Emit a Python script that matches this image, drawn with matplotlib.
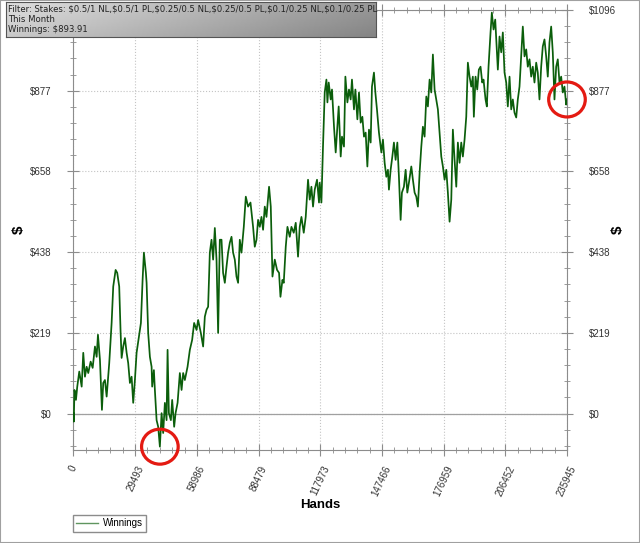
import numpy as np
import matplotlib
matplotlib.use('Agg')
import matplotlib.pyplot as plt
from matplotlib.ticker import AutoMinorLocator, FixedLocator, FixedFormatter
from matplotlib.patches import Ellipse, Rectangle
from matplotlib.lines import Line2D

plt.rcParams['text.parse_math'] = False
plt.rcParams['font.family'] = ['Liberation Sans', 'DejaVu Sans']

# cumulative winnings (hands in thousands, $)
hands_k = [0, 0.14, 0.48, 1.19, 1.81, 2.77, 3.92, 4.68, 5.49, 6.30, 7.07, 8.21, 9.17, 10.27, 11.08,
           11.70, 12.66, 13.61, 14.23, 15.04, 15.86, 17.10, 18.24, 19.01, 20.15, 20.92, 21.87, 22.54,
           23.02, 23.78, 24.60, 25.41, 26.17, 26.98, 27.80, 28.56, 29.37, 30.18, 31.28, 32.24, 33.05,
           33.67, 34.63, 34.96, 35.72, 36.54, 37.35, 37.63, 38.45, 38.92, 39.74, 40.50, 41.31, 42.13,
           42.89, 43.70, 44.51, 44.99, 45.61, 46.57, 47.19, 48.14, 48.81, 49.77, 50.86, 51.68, 52.44,
           53.25, 54.54, 55.64, 56.74, 57.69, 58.84, 59.60, 60.89, 61.99, 62.80, 63.61, 64.38, 65.19,
           66.00, 66.77, 67.58, 68.39, 69.16, 69.97, 70.78, 71.54, 72.36, 73.17, 73.93, 74.75, 75.56,
           76.32, 77.13, 77.94, 78.71, 79.52, 80.33, 81.43, 82.39, 83.48, 84.63, 85.87, 86.68, 87.50,
           88.26, 89.07, 89.88, 90.65, 91.46, 92.27, 93.51, 94.33, 95.14, 96.24, 97.33, 98.29, 98.96,
           99.91, 100.53, 101.49, 102.30, 103.40, 104.21, 105.31, 106.27, 107.36, 108.18, 108.99,
           110.09, 111.04, 112.14, 112.95, 113.76, 114.53, 115.34, 116.44, 117.39, 117.73, 118.54,
           119.30, 120.12, 120.93, 121.41, 122.03, 122.98, 123.60, 124.56, 125.37, 126.18, 126.80,
           127.76, 128.38, 129.33, 130.00, 130.96, 131.72, 132.53, 133.15, 134.11, 134.78, 135.73,
           136.50, 137.31, 138.12, 138.89, 139.70, 140.51, 141.28, 142.09, 142.71, 143.66, 144.33,
           145.10, 146.05, 147.20, 147.96, 148.77, 149.58, 150.35, 150.82, 151.64, 152.45, 153.21,
           154.02, 154.84, 155.60, 156.41, 157.03, 157.99, 158.80, 159.61, 160.38, 161.52, 162.28,
           163.10, 163.91, 164.67, 165.49, 166.30, 167.06, 167.87, 168.69, 169.45, 170.26, 171.07,
           171.84, 172.65, 173.46, 174.23, 175.04, 175.85, 176.62, 177.43, 178.24, 179.00, 179.82,
           180.63, 181.39, 182.20, 183.02, 183.78, 184.59, 185.40, 186.17, 186.98, 187.79, 188.56,
           189.37, 190.18, 190.94, 191.42, 192.23, 193.04, 193.81, 194.62, 195.43, 196.05, 197.01,
           197.63, 198.44, 199.40, 200.02, 200.83, 201.64, 202.41, 202.89, 203.70, 204.51, 205.28,
           206.09, 206.90, 207.66, 208.48, 209.29, 210.05, 210.86, 211.68, 212.44, 213.25, 214.06,
           214.83, 215.64, 216.45, 217.21, 218.03, 218.84, 219.60, 220.41, 221.23, 221.99, 222.80,
           223.61, 224.38, 225.19, 226.00, 226.77, 227.58, 228.39, 229.16, 229.97, 230.78, 231.55,
           232.36, 233.17, 233.94, 234.75, 235.56, 235.945]
winnings = [0, -22, 64, 37, 73, 114, 73, 165, 100, 127, 110, 141, 124, 182, 154,
            214, 146, 10, 83, 91, 46, 137, 246, 345, 390, 382, 345, 219,
            151, 182, 205, 165, 137, 83, 100, 29, 91, 165, 209, 246, 363,
            437, 382, 355, 219, 154, 127, 73, 118, 64, -18, -36, -90, 1,
            -53, 29, -18, 173, 1, -18, 37, -36, 1, 29, 110, 64, 110,
            91, 127, 173, 200, 246, 227, 254, 219, 182, 263, 282, 290, 437,
            472, 418, 504, 418, 219, 472, 472, 382, 355, 399, 437, 464, 480,
            437, 418, 372, 355, 472, 437, 507, 589, 562, 573, 507, 453, 472,
            526, 507, 534, 499, 562, 534, 616, 562, 372, 418, 390, 382, 317,
            363, 355, 453, 507, 480, 507, 491, 518, 426, 507, 534,
            491, 534, 635, 581, 616, 562, 608, 635, 573, 627, 573,
            725, 872, 907, 845, 899, 853, 880, 779, 709, 779, 834,
            698, 752, 725, 915, 845, 880, 853, 907, 826, 880, 799,
            872, 790, 806, 752, 763, 671, 771, 736, 888, 926, 872,
            826, 763, 709, 744, 681, 643, 662, 608, 662, 698, 736,
            689, 736, 643, 526, 600, 616, 662, 600, 627, 671, 635,
            600, 589, 562, 654, 725, 779, 752, 861, 834, 907, 872,
            975, 880, 853, 826, 763, 698, 671, 635, 662, 600, 521,
            581, 771, 689, 616, 736, 681, 736, 698, 744, 806, 953,
            915, 888, 915, 806, 915, 880, 934, 942, 899, 907, 853,
            834, 942, 1035, 1089, 1043, 1070, 989, 934, 1024, 981, 1035,
            926, 899, 834, 915, 826, 853, 817, 804, 853, 888, 970,
            1051, 970, 989, 942, 962, 915, 942, 899, 953, 926, 853,
            942, 997, 1016, 970, 915, 1008, 1051, 981, 853, 942, 962,
            899, 915, 872, 888, 839, 853]

x_max = 235945
y_max = 1096
x_tick_labels = ['0', '29493', '58986', '88479', '117973', '147466', '176959', '206452', '235945']
y_tick_labels = ['$0', '$219', '$438', '$658', '$877', '$1096']
filter_lines = ['Filter: Stakes: $0.5/1 NL,$0.5/1 PL,$0.25/0.5 NL,$0.25/0.5 PL,$0.1/0.25 NL,$0.1/0.25 PL',
                'This Month',
                'Winnings: $893.91']

hands = np.array(hands_k) * 1000
gray = '#8c8c8c'

fig = plt.figure(figsize=(6.4, 5.43), dpi=100)
ax = fig.add_axes([0.1148, 0.1713, 0.7711, 0.8103])
ax.plot(hands, winnings, color='#0b5e0b', lw=1.25, zorder=3)
ax.axhline(0, color='#a0a0a0', lw=0.9, zorder=2)

ax.set_xlim(0, x_max)
ax.set_ylim(-99, y_max)
xt = np.linspace(0, x_max, len(x_tick_labels))
yt = np.linspace(0, y_max, len(y_tick_labels))
ax.xaxis.set_major_locator(FixedLocator(xt))
ax.xaxis.set_major_formatter(FixedFormatter(x_tick_labels))
ax.yaxis.set_major_locator(FixedLocator(yt))
ax.yaxis.set_major_formatter(FixedFormatter(y_tick_labels))
ax.xaxis.set_minor_locator(AutoMinorLocator(5))
ax.yaxis.set_minor_locator(AutoMinorLocator(5))
ax.grid(True, which='major', linestyle=':', color='#c4c4c4', lw=0.8, zorder=1)

for s in ax.spines.values():
    s.set_color(gray)
    s.set_linewidth(0.8)

ax.tick_params(which='both', direction='inout', color=gray, labelsize=7, labelcolor='#333333',
               top=True, right=True, labelright=True)
ax.tick_params(which='major', length=8)
ax.tick_params(which='minor', length=4.5)
ax.tick_params(axis='y', which='major', pad=12)
ax.tick_params(axis='x', which='major', pad=6)
for lab in ax.get_xticklabels():
    lab.set_rotation(65)
    lab.set_ha('center')

# the top-left $1096 label sits under the filter box in the original
ax.yaxis.get_major_ticks()[-1].label1.set_visible(False)

ax.set_xlabel('Hands', fontsize=9.5, fontweight='bold')
ax.xaxis.set_label_coords(0.5, -0.112)
ax.set_ylabel('$', fontsize=11, fontweight='bold')
ax.yaxis.set_label_coords(-0.096, 0.5)
fig.text(618 / 640, 1 - 230 / 543, '$', fontsize=11, fontweight='bold', rotation=90,
         ha='center', va='center')

# red circles marking the low point and the finish
i_min = int(np.argmin(winnings))
for cx, cy in [(hands[i_min], winnings[i_min]), (hands[-1], winnings[-1])]:
    ax.add_patch(Ellipse((cx, cy), 17500, 95, fill=False, edgecolor='#e41a12', lw=2.3,
                         clip_on=False, zorder=6))

# legend
h = Line2D([], [], color='#5f955f', lw=1.0)
fig.legend([h], ['Winnings'], loc='upper left', bbox_to_anchor=(73 / 640, 1 - 515 / 543),
           borderaxespad=0, fancybox=False, edgecolor=gray, fontsize=7, handlelength=2.2,
           borderpad=0.35, handletextpad=0.5, framealpha=1)

# filter box with gradient
bax = fig.add_axes([6 / 640, 1 - 37 / 543, 370 / 640, 35 / 543], zorder=10)
gx = np.linspace(0, 1, 200)
gy = np.linspace(0, 1, 20)
grad = 0.87 - 0.27 * gx[None, :] - 0.08 * gy[:, None]
bax.imshow(grad, cmap='gray', vmin=0, vmax=1, aspect='auto', extent=(0, 1, 1, 0))
bax.set_xticks([])
bax.set_yticks([])
for s in bax.spines.values():
    s.set_color('#555555')
    s.set_linewidth(0.8)
for i, t in enumerate(filter_lines):
    bax.text(0.006, 0.8 - i * 0.3, t, transform=bax.transAxes, fontsize=6.1, color='#222222',
             family='DejaVu Sans', va='center', ha='left')

fig.add_artist(Rectangle((0, 0), 1, 1, transform=fig.transFigure, fill=False,
                         edgecolor='#a0a0a0', lw=1.5))

plt.savefig('out.png', dpi=100)
